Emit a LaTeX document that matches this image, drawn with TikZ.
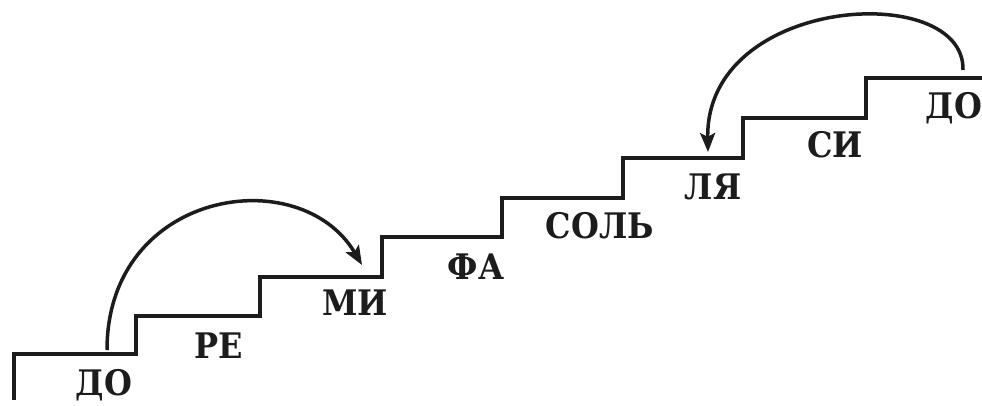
\documentclass[tikz,border=0pt]{standalone}
\usepackage{fontspec}
\usepackage{graphicx}
\setmainfont{DejaVu Serif}
\usetikzlibrary{arrows.meta}
\definecolor{ink}{RGB}{28,28,28}
\newcommand\talltxt[1]{\scalebox{1}[1.1]{#1}}
\begin{document}
\begin{tikzpicture}[x=1pt,y=-1pt,
  stair/.style={line width=4pt, draw=ink, line join=miter},
  jump/.style={line width=3.5pt, draw=ink, -{Stealth[length=19pt,width=15pt,inset=4pt]}},
  note/.style={anchor=base, inner sep=0pt, text=ink, font=\fontsize{32}{32}\selectfont\bfseries}]
\fill[white] (0,0) rectangle (982,406);
\useasboundingbox (0,0) rectangle (982,406);
% staircase
\draw[stair] (14,400) -- (14,354) -- (136,354) -- (136,316) -- (260,316) -- (260,277)
  -- (382,277) -- (382,237) -- (502,237) -- (502,198) -- (623,198) -- (623,158)
  -- (743,158) -- (743,118) -- (866,118) -- (866,78) -- (984,78);
% labels
\node[note] (do1) at (104,395) {\talltxt{ДО}};
\node[note] (re) at (219,358) {\talltxt{РЕ}};
\node[note] (mi) at (355,315) {\talltxt{МИ}};
\node[note] (fa) at (476,279) {\talltxt{ФА}};
\node[note] (sol) at (600,238) {\talltxt{СОЛЬ}};
\node[note] (lya) at (713,200) {\talltxt{ЛЯ}};
\node[note] (si) at (835,158) {\talltxt{СИ}};
\node[note] (do2) at (954,119) {\talltxt{ДО}};
% arrows
\coordinate (a1s) at (107,350);
\coordinate (a1e) at (362,265);
\coordinate (a2s) at (963,70);
\coordinate (a2e) at (708,152);
\draw[jump] (a1s) .. controls (107,190) and (300,160) .. (a1e);
\draw[jump] (a2s) .. controls (965,-20) and (705,-5) .. (a2e);
\end{tikzpicture}
\end{document}
